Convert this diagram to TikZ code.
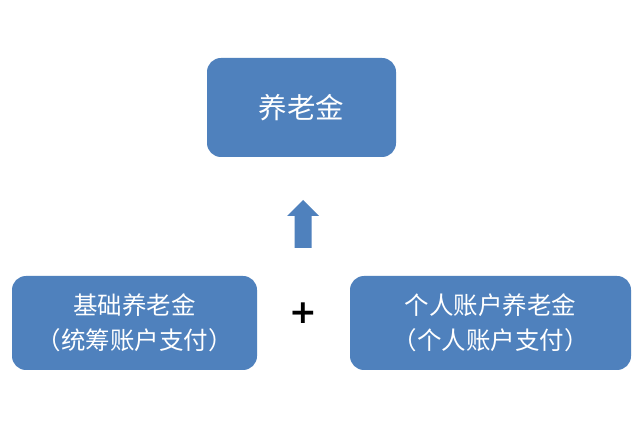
\documentclass[tikz,border=0pt]{standalone}
\usepackage{fontspec}
\setmainfont{Noto Sans CJK SC}
\newfontfamily\plusfont{DejaVu Sans}
\usepackage{tikz}
\usetikzlibrary{positioning,calc}
\definecolor{boxblue}{HTML}{4F81BD}
\tikzset{
  fundbox/.style={fill=boxblue,rounded corners=14pt,text=white,
    align=center,inner sep=0pt},
}
\newcommand*{\toptxt}{\fontsize{28.5}{32}\selectfont}
\newcommand*{\parttxt}{\fontsize{24.5}{35}\selectfont}

\begin{document}
\begin{tikzpicture}[x=1pt,y=-1pt]
% Fix the page size
\useasboundingbox[fill=white] (0,0) rectangle (640,427);
% Total pension on top
\node[fundbox,font=\toptxt,minimum width=189pt,minimum height=99pt]
  (total) at (301.5,107.5) {养老金};
% The two parts below
\node[fundbox,font=\parttxt,minimum width=245pt,minimum height=94pt]
  (basic) at (134.5,323) {基础养老金\\（统筹账户支付）};
\node[fundbox,font=\parttxt,minimum width=281pt,minimum height=94pt]
  (personal) at (490.5,323) {个人账户养老金\\（个人账户支付）};
% Plus sign between the parts
\node[font=\plusfont\bfseries\fontsize{33}{33}\selectfont] (plus) at (303,313) {+};
% Block arrow pointing up
\fill[boxblue] (294.5,248) -- (294.5,216) -- (287,216) -- (303,200)
  -- (319,216) -- (311.5,216) -- (311.5,248) -- cycle;
\end{tikzpicture}
\end{document}
